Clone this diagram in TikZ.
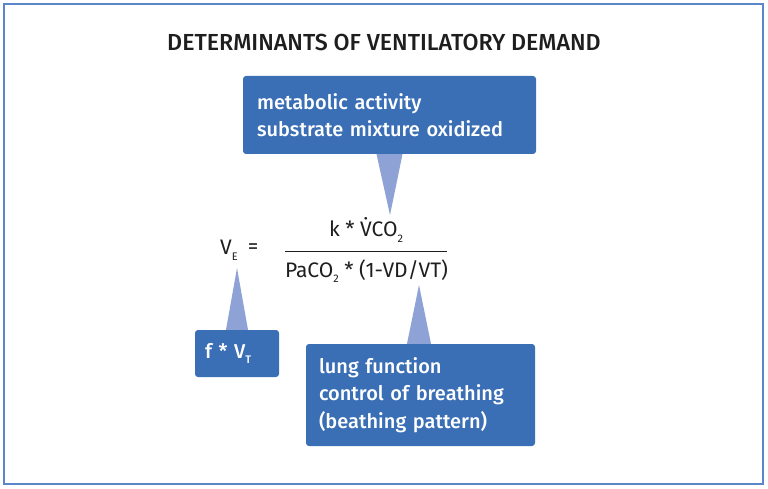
\documentclass[tikz,border=0pt]{standalone}
\usepackage{fontspec}
\setmainfont{Fira Sans Medium}
\newfontfamily\formulaface{Fira Sans}
\usetikzlibrary{positioning}

\definecolor{boxblue}{HTML}{3A6EB5}
\definecolor{tipblue}{HTML}{8FA2D6}
\definecolor{frameblue}{HTML}{5B86C9}
\definecolor{inkgray}{HTML}{1E1E1E}

\newcommand{\lowsub}[1]{\raisebox{-0.5ex}{\fontsize{11}{11}\selectfont #1}}

\tikzset{
  infobox/.style={fill=boxblue, rounded corners=3pt, text=white, align=left,
    inner xsep=14pt, inner ysep=0pt, font=\fontsize{20}{27.5}\selectfont},
  pointer/.style={fill=tipblue},
  formula/.style={text=inkgray, inner sep=0pt, font=\formulaface\fontsize{21}{22}\selectfont},
}

\begin{document}
\begin{tikzpicture}[x=1pt,y=-1pt]
        \useasboundingbox (0,0) rectangle (768,489);
        %% Frame and title
        \draw[frameblue, line width=1.3pt] (4,4) rectangle (763,484);
        \node[text=inkgray, font=\fontsize{23.2}{25}\selectfont] (title) at (384,42) {DETERMINANTS OF VENTILATORY DEMAND};
        %% Boxes
        \node[infobox, minimum width=293pt, minimum height=78pt, text width=265pt] (metab) at (389.5,115)
            {metabolic activity\\substrate mixture oxidized};
        \node[infobox, minimum width=84pt, minimum height=47pt, text width=64pt, inner xsep=10pt] (fvt) at (237,353.5)
            {f * V\lowsub{T}};
        \node[infobox, minimum width=229pt, minimum height=102pt, text width=203pt, inner xsep=13pt] (lung) at (420.5,395)
            {lung function\\control of breathing\\(beathing pattern)};
        %% Formula
        \node[formula] (ve) at (229,250) {V\lowsub{E}};
        \node[formula] (eq) at (253,249) {=};
        \node[formula] (numer) at (366,230) {k * \.{V}CO\lowsub{2}};
        \node[formula] (denom) at (366.5,271) {PaCO\lowsub{2} * (1-VD/VT)};
        \coordinate (barl) at (285,251);
        \coordinate (barr) at (447,251);
        \draw[inkgray, line width=0.6pt] (barl) -- (barr);
        %% Pointers
        \coordinate (metabtip) at (390,215);
        \coordinate (fvttip) at (237,268);
        \coordinate (lungtip) at (419,285);
        \fill[pointer] ([xshift=-13pt]metab.south) -- ([xshift=13pt]metab.south) -- (metabtip) -- cycle;
        \fill[pointer] ([xshift=-11pt]fvt.north) -- ([xshift=11pt]fvt.north) -- (fvttip) -- cycle;
        \fill[pointer] ([xshift=-13.5pt]lung.north) -- ([xshift=10.5pt]lung.north) -- (lungtip) -- cycle;
    \end{tikzpicture}
\end{document}
